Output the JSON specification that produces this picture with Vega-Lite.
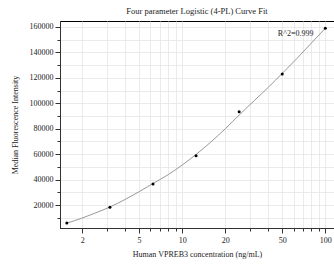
{
  "$schema": "https://vega.github.io/schema/vega-lite/v6.json",
  "width": 274,
  "height": 207,
  "autosize": "none",
  "padding": {"left": 60, "top": 21, "right": 0, "bottom": 36},
  "background": "white",
  "config": {
    "font": "Liberation Serif",
    "view": {"stroke": "black", "strokeWidth": 1},
    "title": {"color": "#222222", "subtitleColor": "#222222"},
    "axis": {"labelFont": "Liberation Serif", "titleFont": "Liberation Serif", "labelFontSize": 8, "titleFontSize": 8, "titleFontWeight": "normal", "labelColor": "#222", "titleColor": "#222", "domainColor": "#333", "tickColor": "#333"}
  },
  "title": {"text": "Four parameter Logistic (4-PL) Curve Fit", "fontSize": 8.5, "fontWeight": "normal", "font": "Liberation Serif", "color": "#222222", "offset": 6, "anchor": "middle"},
  "datasets": {
    "points": [
      {"conc": 1.5625, "mfi": 5900},
      {"conc": 3.125, "mfi": 18300},
      {"conc": 6.25, "mfi": 36600},
      {"conc": 12.5, "mfi": 58700},
      {"conc": 25, "mfi": 93300},
      {"conc": 50, "mfi": 123000},
      {"conc": 100, "mfi": 159000}
    ],
    "curve": [
      {"conc": 1.5625, "mfi": 5800},
      {"conc": 2, "mfi": 9800},
      {"conc": 2.5, "mfi": 14000},
      {"conc": 3.125, "mfi": 18500},
      {"conc": 4, "mfi": 24500},
      {"conc": 5, "mfi": 30500},
      {"conc": 6.25, "mfi": 37000},
      {"conc": 8, "mfi": 44000},
      {"conc": 10, "mfi": 51500},
      {"conc": 12.5, "mfi": 59800},
      {"conc": 16, "mfi": 70000},
      {"conc": 20, "mfi": 80000},
      {"conc": 25, "mfi": 90800},
      {"conc": 32, "mfi": 102300},
      {"conc": 40, "mfi": 112600},
      {"conc": 50, "mfi": 123500},
      {"conc": 63, "mfi": 135000},
      {"conc": 80, "mfi": 147400},
      {"conc": 100, "mfi": 159000}
    ],
    "label": [
      {"conc": 62, "mfi": 154500, "text": "R^2=0.999"}
    ]
  },
  "layer": [
    {
      "data": {"name": "curve"},
      "mark": {"type": "line", "color": "#8c8c8c", "strokeWidth": 0.9, "interpolate": "monotone"},
      "encoding": {
        "x": {"field": "conc", "type": "quantitative", "scale": {"type": "log", "domain": [1.4, 115], "nice": false},
          "axis": {"orient": "bottom", "values": [2,3,4,5,6,7,8,9,10,20,30,40,50,60,70,80,90,100], "labels": false, "title": null, "tickSize": 3, "grid": true, "gridColor": "#e6e6e6", "gridWidth": 0.8, "domain": true}},
        "y": {"field": "mfi", "type": "quantitative", "scale": {"domain": [2000, 164700], "nice": false, "zero": false},
          "axis": {"orient": "left", "values": [10000,20000,30000,40000,50000,60000,70000,80000,90000,100000,110000,120000,130000,140000,150000,160000], "labels": false, "title": null, "tickSize": 3, "grid": true, "gridColor": "#e6e6e6", "gridWidth": 0.8, "domain": true}}
      }
    },
    {
      "data": {"name": "points"},
      "mark": {"type": "circle", "color": "black", "size": 9, "opacity": 1},
      "encoding": {
        "x": {"field": "conc", "type": "quantitative", "scale": {"type": "log", "domain": [1.4, 115], "nice": false},
          "axis": {"orient": "bottom", "values": [2,5,10,20,50,100], "format": "d", "title": "Human VPREB3 concentration (ng/mL)", "tickSize": 5, "grid": false, "labelPadding": 3, "titlePadding": 6}},
        "y": {"field": "mfi", "type": "quantitative", "scale": {"domain": [2000, 164700], "nice": false, "zero": false},
          "axis": {"orient": "left", "values": [20000,40000,60000,80000,100000,120000,140000,160000], "format": "d", "title": "Median Fluorescence Intensity", "tickSize": 5, "grid": false, "labelPadding": 2, "titlePadding": 10}}
      }
    },
    {
      "data": {"name": "label"},
      "mark": {"type": "text", "fontSize": 8, "font": "Liberation Serif", "color": "#222", "align": "center", "baseline": "middle"},
      "encoding": {
        "x": {"field": "conc", "type": "quantitative", "axis": null},
        "y": {"field": "mfi", "type": "quantitative", "axis": null},
        "text": {"field": "text"}
      }
    }
  ],
  "resolve": {"axis": {"x": "independent", "y": "independent"}}
}
